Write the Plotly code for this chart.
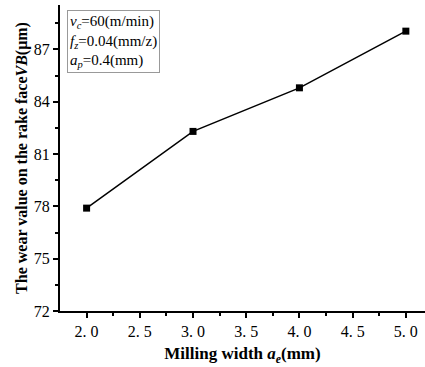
import plotly.graph_objects as go

milling_width = [2.0, 3.0, 4.0, 5.0]
wear_vb = [77.9, 82.3, 84.8, 88.05]
x_tick_vals = [2.0, 2.5, 3.0, 3.5, 4.0, 4.5, 5.0]
x_tick_text = ["2. 0", "2. 5", "3. 0", "3. 5", "4. 0", "4. 5", "5. 0"]
y_tick_vals = [72, 75, 78, 81, 84, 87]

SERIF = "Liberation Serif, Times New Roman, serif"

fig = go.Figure()
fig.add_trace(go.Scatter(
    x=milling_width, y=wear_vb, mode="lines+markers",
    line=dict(color="black", width=1.5),
    marker=dict(symbol="square", size=7, color="black"),
    showlegend=False,
))

fig.update_layout(
    width=425, height=367,
    margin=dict(l=60, r=0, t=5, b=56),
    plot_bgcolor="white", paper_bgcolor="white",
    font=dict(family=SERIF, size=15, color="black"),
    xaxis=dict(
        range=[1.75, 5.18], tickvals=x_tick_vals, ticktext=x_tick_text,
        showline=True, linecolor="black", linewidth=2,
        ticks="outside", ticklen=5, tickwidth=2, tickcolor="black",
        minor=dict(tickvals=[2.25, 2.75, 3.25, 3.75, 4.25, 4.75], ticks="outside",
                   ticklen=3, tickwidth=1.5, tickcolor="black"),
        showgrid=False, zeroline=False,
        tickfont=dict(size=16),
        title=dict(text="<b>Milling width <i>a<sub>e</sub></i>(mm)</b>", font=dict(size=17), standoff=8),
    ),
    yaxis=dict(
        range=[72, 89.55], tickvals=y_tick_vals,
        showline=True, linecolor="black", linewidth=2,
        ticks="outside", ticklen=5, tickwidth=2, tickcolor="black",
        minor=dict(tickvals=[73.5, 76.5, 79.5, 82.5, 85.5, 88.5], ticks="outside",
                   ticklen=3, tickwidth=1.5, tickcolor="black"),
        showgrid=False, zeroline=False,
        tickfont=dict(size=16),
        title=dict(text="<b>The wear value on the rake face<i>VB</i>(μm)</b>", font=dict(size=16), standoff=2),
    ),
)

fig.add_annotation(
    xref="paper", yref="paper", x=0.018, y=0.985, xanchor="left", yanchor="top",
    text="<i>v<sub>c</sub></i>=60(m/min)<br><i>f<sub>z</sub></i>=0.04(mm/z)<br><i>a<sub>p</sub></i>=0.4(mm)",
    showarrow=False, align="left",
    font=dict(family=SERIF, size=15, color="black"),
    bordercolor="#999999", borderwidth=1, borderpad=2, bgcolor="white",
)

fig.write_html("out.html")
